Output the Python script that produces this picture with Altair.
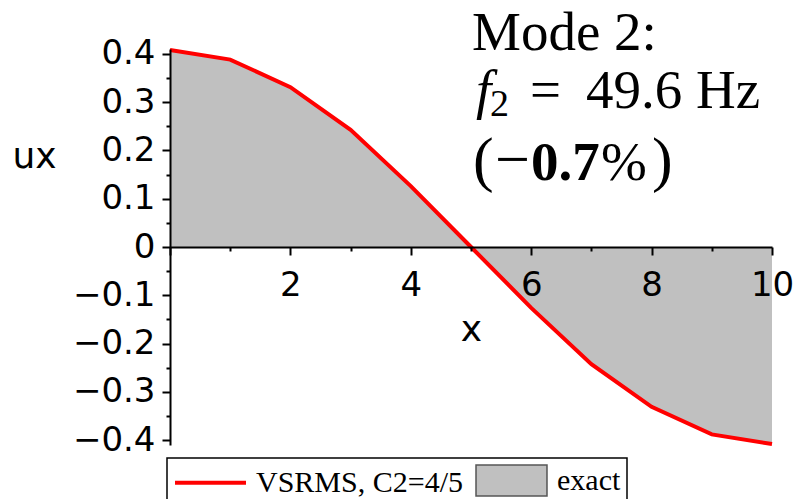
import altair as alt
import pandas as pd

# Nodal displacement of mode 2 along the bar
x_nodes = [0, 1, 2, 3, 4, 5, 6, 7, 8, 9, 10]
ux_vsrms = [0.408, 0.388, 0.331, 0.2425, 0.126, 0.0, -0.126, -0.2425, -0.331, -0.388, -0.408]
ux_exact = [0.408, 0.388, 0.331, 0.2425, 0.126, 0.0, -0.126, -0.2425, -0.331, -0.388, -0.408]

series_names = ["VSRMS, C2=4/5", "exact"]
line_color = "#ff0000"
fill_color = "#c0c0c0"

x_tick_values = [0, 1, 2, 3, 4, 5, 6, 7, 8, 9, 10]
y_tick_values = [-0.4, -0.35, -0.3, -0.25, -0.2, -0.15, -0.1, -0.05, 0.0,
                 0.05, 0.1, 0.15, 0.2, 0.25, 0.3, 0.35, 0.4]

mode_title = "Mode 2:"
freq_symbol, freq_index, freq_eq, freq_value = "f", "2", "=", "49.6 Hz"
err_open, err_sign, err_value, err_pct, err_close = "(", "\u2212", "0.7", "%", ")"

vsrms_df = pd.DataFrame({"x": x_nodes, "ux": ux_vsrms})
exact_df = pd.DataFrame({"x": x_nodes, "ux": ux_exact})
key_df = pd.DataFrame({"series": series_names})

SANS = "DejaVu Sans"
SERIF = "Liberation Serif"

is_tenth = "abs(datum.value*10 - round(datum.value*10)) < 0.01"

x_axis = alt.Axis(
    values=x_tick_values,
    offset=-198, zindex=1, labelFlush=False,
    labelExpr="datum.value % 2 === 0 && datum.value > 0 ? datum.label : ''",
    labelFont=SANS, labelFontSize=34, labelPadding=13, labelColor="black",
    tickSize={"condition": {"test": "datum.value % 2 === 0", "value": 8}, "value": 4},
    tickColor="black", tickWidth=2, domainColor="black", domainWidth=2,
    grid=False, title="x", titleFont=SANS, titleFontSize=36, titleFontWeight="normal",
    titleBaseline="alphabetic", titleY=93, titleColor="black",
)

y_axis = alt.Axis(
    values=y_tick_values, zindex=1, labelFlush=False,
    labelExpr=f"{is_tenth} ? (datum.value == 0 ? '0' : format(datum.value, '.1f')) : ''",
    labelFont=SANS, labelFontSize=34, labelPadding=7, labelColor="black",
    tickSize={"condition": {"test": is_tenth, "value": 8}, "value": 4},
    tickColor="black", tickWidth=2, domainColor="black", domainWidth=2,
    grid=False, title="ux", titleFont=SANS, titleFontSize=36, titleFontWeight="normal",
    titleAngle=0, titleAlign="left", titleBaseline="alphabetic",
    titleX=-158, titleY=118, titleColor="black",
)

x_enc = alt.X("x:Q", scale=alt.Scale(domain=[0, 10], nice=False), axis=x_axis)
y_enc = alt.Y("ux:Q", scale=alt.Scale(domain=[-0.41, 0.41], nice=False, zero=False), axis=y_axis)

# shaded exact mode shape
area = alt.Chart(exact_df).mark_area(color=fill_color, opacity=1).encode(
    x=x_enc, y=y_enc, y2=alt.datum(0),
)

# VSRMS mode shape
line = alt.Chart(vsrms_df).mark_line(color=line_color, strokeWidth=4).encode(
    x=x_enc, y=y_enc,
)

# key entries: a red stroke for the line, a grey box for the shaded area
legend = alt.Legend(
    title=None, orient="none", legendX=-3, legendY=409, direction="horizontal",
    columns=2, padding=6, strokeColor="black", symbolSize=961, symbolOpacity=1,
    symbolOffset=20, labelOffset=28, columnPadding=10,
    labelFont=SERIF, labelFontSize=30, labelColor="black", labelLimit=400,
)
key = alt.Chart(key_df).mark_point(filled=True, size=961).encode(
    shape=alt.Shape("series:N", scale=alt.Scale(domain=series_names,
                    range=["M-2.29,0H2.29", "M-2.29,-1H2.29V1H-2.29Z"]), legend=legend),
    fill=alt.Fill("series:N", scale=alt.Scale(domain=series_names,
                  range=["transparent", fill_color]), legend=legend),
    stroke=alt.Stroke("series:N", scale=alt.Scale(domain=series_names,
                      range=[line_color, "#555555"]), legend=legend),
    strokeWidth=alt.StrokeWidth("series:N", scale=alt.Scale(domain=series_names,
                                range=[4, 1.5]), legend=legend),
    opacity=alt.value(0),
)


def note(text, px, py, size=55, weight="normal", style="normal"):
    return alt.Chart(pd.DataFrame({"t": [text]})).mark_text(
        align="left", baseline="alphabetic", font=SERIF, fontSize=size,
        fontWeight=weight, fontStyle=style, color="black",
    ).encode(text="t:N", x=alt.value(px), y=alt.value(py))


notes = [
    note(mode_title, 302, 1),
    note(freq_symbol, 306, 59, style="italic"),
    note(freq_index, 320, 67, size=38),
    note(freq_eq, 360, 59),
    note(freq_value, 416, 59),
    note(err_open, 303, 131, size=62),
    note(err_sign, 325, 131, size=62),
    note(err_value, 361, 131, weight="bold"),
    note(err_pct, 431, 131),
    note(err_close, 482, 131, size=62),
]

chart = alt.layer(area, line, key, *notes).properties(
    width=602, height=396,
    autosize=alt.AutoSizeParams(type="none"),
    padding={"left": 170, "top": 49, "right": 22, "bottom": 54},
).configure_view(stroke=None).configure_legend(strokeWidth=1.5)

chart.save("out.html", embed_options={"renderer": "svg", "actions": False})
